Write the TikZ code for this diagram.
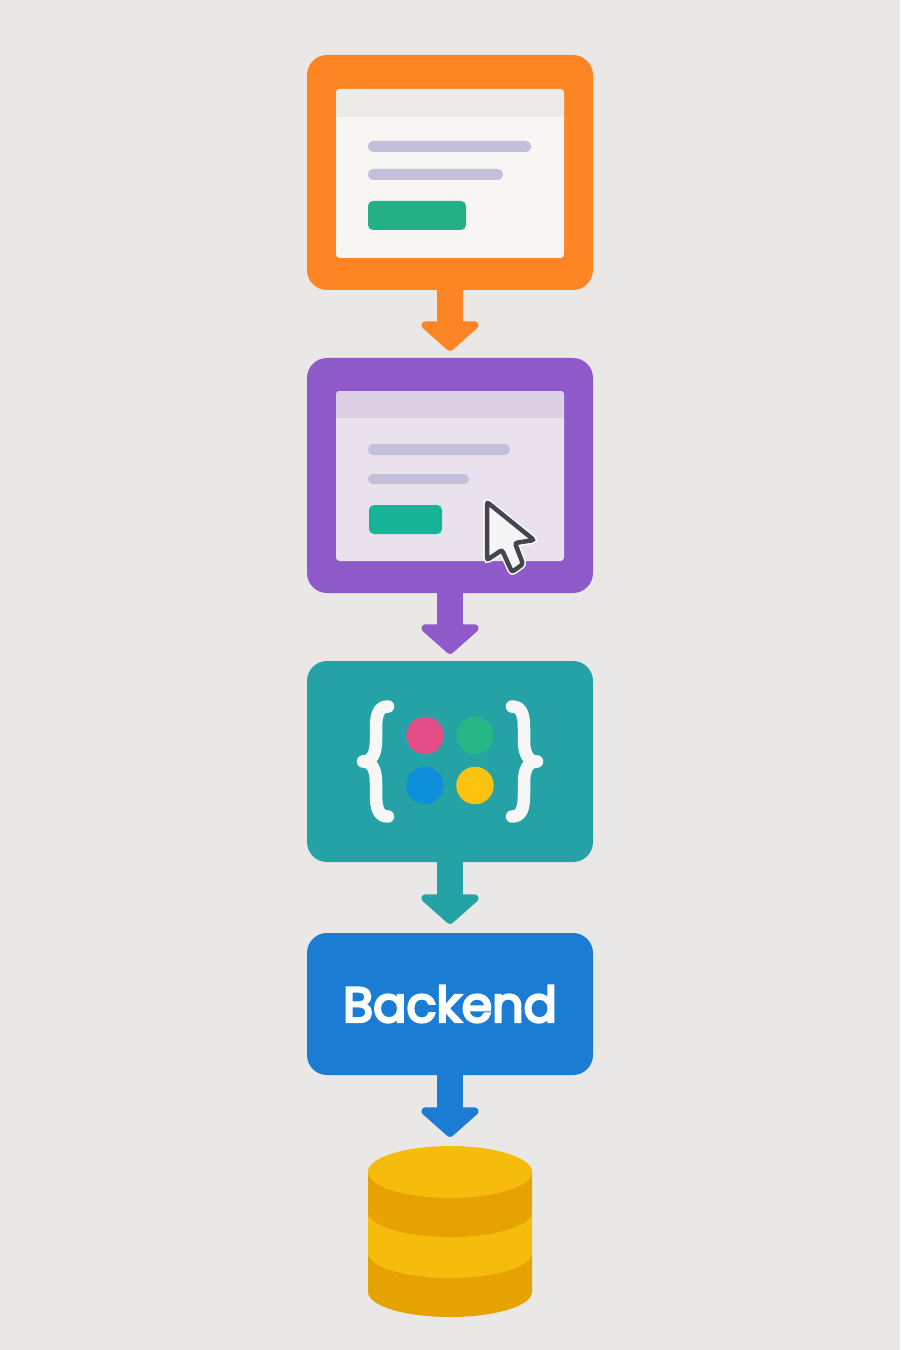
\documentclass[tikz,border=0pt]{standalone}
\usepackage{fontspec}
\usepackage{xcolor}
\usetikzlibrary{arrows.meta, positioning, calc}
\newfontfamily\labelfont{Poppins}[FakeBold=5]
\definecolor{paper}{HTML}{EAE8E6}
\definecolor{stageA}{HTML}{FE8524}
\definecolor{stageB}{HTML}{8E59C9}
\definecolor{stageC}{HTML}{25A2A6}
\definecolor{stageD}{HTML}{1B7CD3}
\definecolor{screenA}{HTML}{F7F6F4}
\definecolor{screenB}{HTML}{E9E2EC}
\definecolor{headA}{HTML}{ECEBE8}
\definecolor{headB}{HTML}{DDD0E5}
\definecolor{barcol}{HTML}{C4BFDA}
\definecolor{btnA}{HTML}{23B084}
\definecolor{btnB}{HTML}{17B498}
\definecolor{dotpink}{HTML}{E54D86}
\definecolor{dotgreen}{HTML}{25B886}
\definecolor{dotblue}{HTML}{0E8FDC}
\definecolor{dotyellow}{HTML}{FBC30D}
\definecolor{dblight}{HTML}{F6BC0B}
\definecolor{dbdark}{HTML}{E5A200}
\definecolor{cursorline}{HTML}{45454D}
\tikzset{
  panel/.style={
    rounded corners=0.4cm, fill=#1, inner sep=0pt, outer sep=0pt,
    minimum width=5.72cm, text=white
  },
  screen/.style={
    rounded corners=0.07cm, fill=#1, inner sep=0pt, outer sep=0pt,
    minimum width=4.56cm
  },
  headband/.style={
    fill=#1, inner sep=0pt, outer sep=0pt,
    minimum width=4.56cm, minimum height=0.56cm
  },
  textbar/.style={
    rounded corners=0.1cm, fill=barcol, inner sep=0pt, outer sep=0pt,
    minimum height=0.22cm
  },
  btn/.style={
    rounded corners=0.1cm, fill=#1, inner sep=0pt, outer sep=0pt,
    minimum height=0.58cm
  },
  codedot/.style={circle, fill=#1, inner sep=0pt, minimum size=0.75cm},
  bracket/.style={draw=white!97!black, line width=0.25cm, line cap=round, line join=round},
  pointer/.style={
    preaction={draw=white, line width=0.15cm}, fill=white!96!black,
    draw=cursorline, line width=0.09cm, rounded corners=0.05cm
  },
  flowarrow/.style={
    -{Triangle[length=0.62cm, width=1.36cm, round]},
    line width=0.52cm, color=#1
  }
}
% one slab of the cylinder, from rim y #1 to rim y #2
\newcommand{\dbslab}[3]{%
  \fill[#3] (-1.64,#1) -- (-1.64,#2)
    arc[start angle=180, end angle=360, x radius=1.64, y radius=0.5]
    -- (1.64,#1)
    arc[start angle=0, end angle=180, x radius=1.64, y radius=0.5] -- cycle;}
\begin{document}
\begin{tikzpicture}[node distance=1.36cm]
    \useasboundingbox[fill=paper] (0,0) rectangle (18,-27);

    \node[panel=stageA, minimum height=4.7cm, anchor=north] (form) at (9,-1.1) {};
    \node[panel=stageB, minimum height=4.7cm, below=of form] (click) {};
    \node[panel=stageC, minimum height=4.02cm, below=of click] (code) {};
    \node[panel=stageD, minimum height=2.84cm, below=1.42cm of code] (backend) {%
      \raisebox{-0.04cm}{\labelfont\fontsize{28}{34}\selectfont Backend}};
    \coordinate[below=1.42cm of backend] (dbtop);

    % page in the first panel
    \node[screen=screenA, minimum height=3.38cm, below=0.68cm of form.north, anchor=north] (formscreen) {};
    \begin{scope}
      \clip[rounded corners=0.07cm] (formscreen.south west) rectangle (formscreen.north east);
      \node[headband=headA, below=0cm of formscreen.north] (formhead) {};
    \end{scope}
    \node[textbar, minimum width=3.26cm, below right=1.04cm and 0.64cm of formscreen.north west] (formbarA) {};
    \node[textbar, minimum width=2.7cm, below=0.34cm of formbarA.south west, anchor=north west] (formbarB) {};
    \node[btn=btnA, minimum width=1.96cm, below=0.42cm of formbarB.south west, anchor=north west] (formbtn) {};

    % page in the second panel
    \node[screen=screenB, minimum height=3.4cm, below=0.66cm of click.north, anchor=north] (clickscreen) {};
    \begin{scope}
      \clip[rounded corners=0.07cm] (clickscreen.south west) rectangle (clickscreen.north east);
      \node[headband=headB, minimum height=0.54cm, below=0cm of clickscreen.north] (clickhead) {};
    \end{scope}
    \node[textbar, minimum width=2.84cm, below right=1.06cm and 0.64cm of clickscreen.north west] (clickbarA) {};
    \node[textbar, minimum width=2.02cm, minimum height=0.2cm, below=0.38cm of clickbarA.south west, anchor=north west] (clickbarB) {};
    \node[btn=btnB, minimum width=1.46cm, below right=0.42cm and 0.02cm of clickbarB.south west] (clickbtn) {};
    \coordinate (cursortip) at ($(clickscreen.north west)+(3.02,-2.22)$);
    \draw[pointer, shift={(cursortip)}] (0,0) -- (0.94,-0.76) -- (0.56,-0.82)
      -- (0.72,-1.24) -- (0.5,-1.4) -- (0.3,-0.96) -- (0,-1.16) -- cycle;

    % dots and braces in the third panel
    \node[codedot=dotpink] (pinkdot) at ($(code)+(-0.5,0.52)$) {};
    \node[codedot=dotgreen] (greendot) at ($(code)+(0.5,0.52)$) {};
    \node[codedot=dotblue] (bluedot) at ($(code)+(-0.5,-0.48)$) {};
    \node[codedot=dotyellow] (yellowdot) at ($(code)+(0.5,-0.48)$) {};
    \foreach \sx in {1,-1} {
      \draw[bracket, shift={(code.center)}, xscale=\sx]
        (-1.24,1.1) .. controls (-1.42,1.1) and (-1.48,0.96) .. (-1.48,0.66)
        -- (-1.48,0.42) .. controls (-1.48,0.16) and (-1.56,0) .. (-1.74,0)
        (-1.74,0) .. controls (-1.56,0) and (-1.48,-0.16) .. (-1.48,-0.42)
        -- (-1.48,-0.66) .. controls (-1.48,-0.96) and (-1.42,-1.1) .. (-1.24,-1.1);
    }

    % database
    \begin{scope}[shift={(dbtop)}]
      \dbslab{-2.14}{-2.92}{dbdark}
      \dbslab{-1.32}{-2.14}{dblight}
      \dbslab{-0.52}{-1.32}{dbdark}
      \fill[dblight] (0,-0.52) circle[x radius=1.64, y radius=0.52];
    \end{scope}

    \draw[flowarrow=stageA, shorten >=0.14cm] (form) -- (click);
    \draw[flowarrow=stageB, shorten >=0.14cm] (click) -- (code);
    \draw[flowarrow=stageC, shorten >=0.18cm] (code) -- (backend);
    \draw[flowarrow=stageD, shorten >=0.18cm] (backend) -- (dbtop);
  \end{tikzpicture}
\end{document}
